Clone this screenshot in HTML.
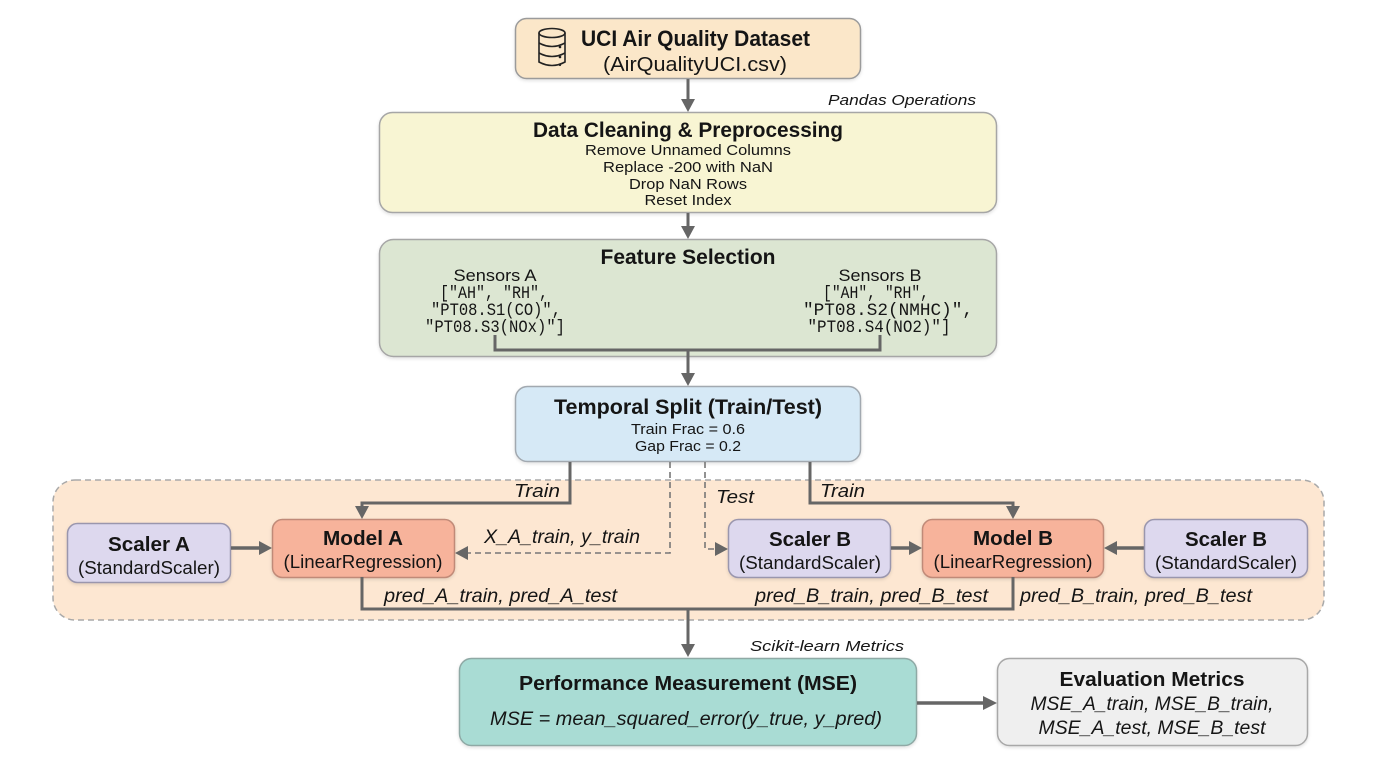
<!DOCTYPE html>
<html>
<head>
<meta charset="utf-8">
<style>
html,body{margin:0;padding:0;background:#fff;}
svg{display:block;}
text{font-family:"Liberation Sans",sans-serif;fill:#151515;}
.b{font-weight:bold;}
.i{font-style:italic;}
.m{font-family:"Liberation Mono",monospace;}
</style>
</head>
<body>
<svg width="1376" height="768" viewBox="0 0 1376 768" xmlns="http://www.w3.org/2000/svg">
<defs>
  <filter id="sh" x="-5%" y="-5%" width="110%" height="120%">
    <feDropShadow dx="0" dy="1.5" stdDeviation="1.5" flood-color="#000" flood-opacity="0.12"/>
  </filter>
</defs>

<!-- dashed container -->
<rect x="53" y="480" width="1271" height="140" rx="22" fill="#fde7d2" stroke="#a9a9a9" stroke-width="1.5" stroke-dasharray="6,4"/>

<!-- UCI box -->
<rect x="515.5" y="18.5" width="345" height="60" rx="11" fill="#fbe7c9" stroke="#9b9b9b" stroke-width="1.5" filter="url(#sh)"/>
<!-- database icon -->
<g fill="none" stroke="#222" stroke-width="1.6">
  <ellipse cx="552" cy="33" rx="13" ry="4.5"/>
  <path d="M539 33 V62 Q552 69 565 62 V33"/>
  <path d="M539 43 Q552 50 565 43"/>
  <path d="M539 53 Q552 60 565 53"/>
</g>
<g fill="#222">
  <circle cx="560" cy="47" r="1.3"/>
  <circle cx="560" cy="57" r="1.3"/>
  <circle cx="560" cy="65" r="1.1"/>
</g>
<text class="b" x="581" y="46" font-size="22" textLength="229" lengthAdjust="spacingAndGlyphs">UCI Air Quality Dataset</text>
<text x="603" y="71" font-size="20" textLength="184" lengthAdjust="spacingAndGlyphs">(AirQualityUCI.csv)</text>

<!-- arrow UCI -> cleaning -->
<line x1="688" y1="79" x2="688" y2="101" stroke="#666" stroke-width="3"/>
<polygon points="681,99 695,99 688,112" fill="#666"/>
<text class="i" x="828" y="105" font-size="15" textLength="148" lengthAdjust="spacingAndGlyphs">Pandas Operations</text>

<!-- Cleaning box -->
<rect x="379.5" y="112.5" width="617" height="100" rx="13" fill="#f8f5d3" stroke="#a6a6a6" stroke-width="1.5" filter="url(#sh)"/>
<text class="b" x="688" y="137" font-size="21" text-anchor="middle" textLength="310" lengthAdjust="spacingAndGlyphs">Data Cleaning &amp; Preprocessing</text>
<text x="688" y="155" font-size="15" text-anchor="middle" textLength="206" lengthAdjust="spacingAndGlyphs">Remove Unnamed Columns</text>
<text x="688" y="172" font-size="15" text-anchor="middle" textLength="170" lengthAdjust="spacingAndGlyphs">Replace -200 with NaN</text>
<text x="688" y="189" font-size="15" text-anchor="middle" textLength="118" lengthAdjust="spacingAndGlyphs">Drop NaN Rows</text>
<text x="688" y="205" font-size="15" text-anchor="middle" textLength="87" lengthAdjust="spacingAndGlyphs">Reset Index</text>

<!-- arrow cleaning -> feature -->
<line x1="688" y1="213" x2="688" y2="228" stroke="#666" stroke-width="3"/>
<polygon points="681,226 695,226 688,239" fill="#666"/>

<!-- Feature box -->
<rect x="379.5" y="239.5" width="617" height="117" rx="14" fill="#dce6d2" stroke="#a6a6a6" stroke-width="1.5" filter="url(#sh)"/>
<text class="b" x="688" y="264" font-size="21" text-anchor="middle" textLength="175" lengthAdjust="spacingAndGlyphs">Feature Selection</text>
<text x="495" y="281" font-size="17" text-anchor="middle" textLength="83" lengthAdjust="spacingAndGlyphs">Sensors A</text>
<text class="m" x="494" y="298" font-size="17.5" text-anchor="middle" textLength="108" lengthAdjust="spacingAndGlyphs">["AH", "RH",</text>
<text class="m" x="496" y="315" font-size="17.5" text-anchor="middle" textLength="130" lengthAdjust="spacingAndGlyphs">"PT08.S1(CO)",</text>
<text class="m" x="495" y="332" font-size="17.5" text-anchor="middle" textLength="140" lengthAdjust="spacingAndGlyphs">"PT08.S3(NOx)"]</text>

<text x="880" y="281" font-size="17" text-anchor="middle" textLength="83" lengthAdjust="spacingAndGlyphs">Sensors B</text>
<text class="m" x="876" y="298" font-size="17.5" text-anchor="middle" textLength="106" lengthAdjust="spacingAndGlyphs">["AH", "RH",</text>
<text class="m" x="888" y="315" font-size="17.5" text-anchor="middle" textLength="170" lengthAdjust="spacingAndGlyphs">"PT08.S2(NMHC)",</text>
<text class="m" x="879" y="332" font-size="17.5" text-anchor="middle" textLength="143" lengthAdjust="spacingAndGlyphs">"PT08.S4(NO2)"]</text>

<!-- bracket -->
<path d="M495 335 V350 H880 V335" fill="none" stroke="#666" stroke-width="3"/>
<line x1="688" y1="350" x2="688" y2="375" stroke="#666" stroke-width="3"/>
<polygon points="681,373 695,373 688,386" fill="#666"/>

<!-- Temporal box -->
<rect x="515.5" y="386.5" width="345" height="75" rx="12" fill="#d6e9f6" stroke="#a2a9b0" stroke-width="1.5" filter="url(#sh)"/>
<text class="b" x="688" y="414" font-size="21" text-anchor="middle" textLength="268" lengthAdjust="spacingAndGlyphs">Temporal Split (Train/Test)</text>
<text x="688" y="434" font-size="15" text-anchor="middle" textLength="114" lengthAdjust="spacingAndGlyphs">Train Frac = 0.6</text>
<text x="688" y="451" font-size="15" text-anchor="middle" textLength="106" lengthAdjust="spacingAndGlyphs">Gap Frac = 0.2</text>

<!-- Train left -->
<path d="M570 462 V503 H362 V508" fill="none" stroke="#666" stroke-width="3"/>
<polygon points="355,506 369,506 362,519" fill="#666"/>
<text class="i" x="514" y="497" font-size="18" textLength="46" lengthAdjust="spacingAndGlyphs">Train</text>

<!-- Train right -->
<path d="M810 462 V503 H1013 V508" fill="none" stroke="#666" stroke-width="3"/>
<polygon points="1006,506 1020,506 1013,519" fill="#666"/>
<text class="i" x="820" y="497" font-size="18" textLength="45" lengthAdjust="spacingAndGlyphs">Train</text>

<!-- Dashed 1 -->
<path d="M670 462 V553 H467" fill="none" stroke="#777" stroke-width="1.6" stroke-dasharray="6,4"/>
<polygon points="468,546 468,560 455,553" fill="#666"/>
<text class="i" x="484" y="543" font-size="19" textLength="156" lengthAdjust="spacingAndGlyphs">X_A_train, y_train</text>

<!-- Dashed 2 -->
<path d="M705 462 V549 H716" fill="none" stroke="#777" stroke-width="1.6" stroke-dasharray="6,4"/>
<polygon points="715,542 715,556 728,549" fill="#666"/>
<text class="i" x="716" y="503" font-size="18" textLength="38" lengthAdjust="spacingAndGlyphs">Test</text>

<!-- Scaler A -->
<rect x="67.5" y="523.5" width="163" height="59" rx="10" fill="#ddd8ee" stroke="#9a96ad" stroke-width="1.5" filter="url(#sh)"/>
<text class="b" x="149" y="551" font-size="20" text-anchor="middle" textLength="82" lengthAdjust="spacingAndGlyphs">Scaler A</text>
<text x="149" y="574" font-size="18" text-anchor="middle" textLength="142" lengthAdjust="spacingAndGlyphs">(StandardScaler)</text>

<line x1="231" y1="548" x2="260" y2="548" stroke="#666" stroke-width="3.5"/>
<polygon points="259,541 259,555 272,548" fill="#666"/>

<!-- Model A -->
<rect x="272.5" y="519.5" width="182" height="58" rx="10" fill="#f7b39b" stroke="#c08a78" stroke-width="1.5" filter="url(#sh)"/>
<text class="b" x="363" y="545" font-size="20" text-anchor="middle" textLength="80" lengthAdjust="spacingAndGlyphs">Model A</text>
<text x="363" y="568" font-size="18" text-anchor="middle" textLength="159" lengthAdjust="spacingAndGlyphs">(LinearRegression)</text>

<!-- Scaler B -->
<rect x="728.5" y="519.5" width="162" height="58" rx="10" fill="#ddd8ee" stroke="#9a96ad" stroke-width="1.5" filter="url(#sh)"/>
<text class="b" x="810" y="546" font-size="20" text-anchor="middle" textLength="82" lengthAdjust="spacingAndGlyphs">Scaler B</text>
<text x="810" y="569" font-size="18" text-anchor="middle" textLength="142" lengthAdjust="spacingAndGlyphs">(StandardScaler)</text>

<line x1="891" y1="548" x2="910" y2="548" stroke="#666" stroke-width="3.5"/>
<polygon points="909,541 909,555 922,548" fill="#666"/>

<!-- Model B -->
<rect x="922.5" y="519.5" width="181" height="58" rx="10" fill="#f7b39b" stroke="#c08a78" stroke-width="1.5" filter="url(#sh)"/>
<text class="b" x="1013" y="545" font-size="20" text-anchor="middle" textLength="80" lengthAdjust="spacingAndGlyphs">Model B</text>
<text x="1013" y="568" font-size="18" text-anchor="middle" textLength="159" lengthAdjust="spacingAndGlyphs">(LinearRegression)</text>

<line x1="1144" y1="548" x2="1116" y2="548" stroke="#666" stroke-width="3.5"/>
<polygon points="1117,541 1117,555 1104,548" fill="#666"/>

<!-- Scaler B right -->
<rect x="1144.5" y="519.5" width="163" height="58" rx="10" fill="#ddd8ee" stroke="#9a96ad" stroke-width="1.5" filter="url(#sh)"/>
<text class="b" x="1226" y="546" font-size="20" text-anchor="middle" textLength="82" lengthAdjust="spacingAndGlyphs">Scaler B</text>
<text x="1226" y="569" font-size="18" text-anchor="middle" textLength="142" lengthAdjust="spacingAndGlyphs">(StandardScaler)</text>

<!-- bottom collector -->
<path d="M362 577 V609 H1013 V577" fill="none" stroke="#666" stroke-width="3"/>
<line x1="688" y1="609" x2="688" y2="646" stroke="#666" stroke-width="3"/>
<polygon points="681,644 695,644 688,657" fill="#666"/>

<text class="i" x="384" y="602" font-size="19" textLength="233" lengthAdjust="spacingAndGlyphs">pred_A_train, pred_A_test</text>
<text class="i" x="755" y="602" font-size="19" textLength="233" lengthAdjust="spacingAndGlyphs">pred_B_train, pred_B_test</text>
<text class="i" x="1020" y="602" font-size="19" textLength="232" lengthAdjust="spacingAndGlyphs">pred_B_train, pred_B_test</text>

<text class="i" x="750" y="651" font-size="15" textLength="154" lengthAdjust="spacingAndGlyphs">Scikit-learn Metrics</text>

<!-- MSE box -->
<rect x="459.5" y="658.5" width="457" height="87" rx="12" fill="#a9dcd4" stroke="#8fa9a5" stroke-width="1.5" filter="url(#sh)"/>
<text class="b" x="688" y="690" font-size="20" text-anchor="middle" textLength="338" lengthAdjust="spacingAndGlyphs">Performance Measurement (MSE)</text>
<text class="i" x="686" y="725" font-size="19" text-anchor="middle" textLength="392" lengthAdjust="spacingAndGlyphs">MSE = mean_squared_error(y_true, y_pred)</text>

<line x1="917" y1="703" x2="984" y2="703" stroke="#666" stroke-width="3.5"/>
<polygon points="983,696 983,710 997,703" fill="#666"/>

<!-- Eval box -->
<rect x="997.5" y="658.5" width="310" height="87" rx="12" fill="#efefef" stroke="#a8a8a8" stroke-width="1.5" filter="url(#sh)"/>
<text class="b" x="1152" y="686" font-size="20" text-anchor="middle" textLength="185" lengthAdjust="spacingAndGlyphs">Evaluation Metrics</text>
<text class="i" x="1152" y="710" font-size="19" text-anchor="middle" textLength="243" lengthAdjust="spacingAndGlyphs">MSE_A_train, MSE_B_train,</text>
<text class="i" x="1152" y="734" font-size="19" text-anchor="middle" textLength="227" lengthAdjust="spacingAndGlyphs">MSE_A_test, MSE_B_test</text>
</svg>
</body>
</html>
